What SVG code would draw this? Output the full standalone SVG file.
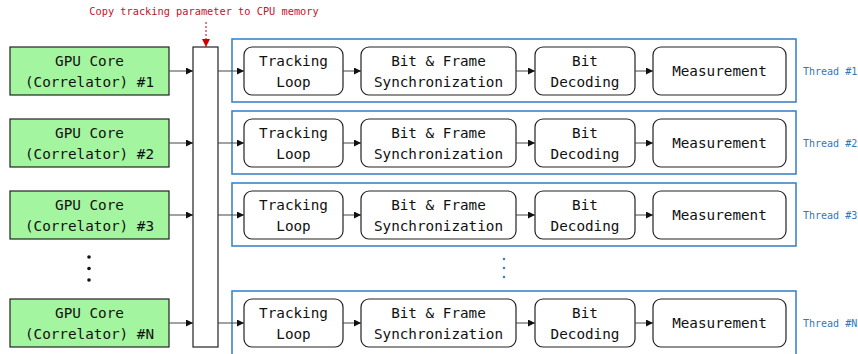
<svg xmlns="http://www.w3.org/2000/svg" width="858" height="354" viewBox="0 0 858 354">
<style>
text{font-family:"DejaVu Sans Mono","Liberation Mono",monospace;}
.t{font-size:14.3px;fill:#111;text-anchor:middle;}
.gpu{fill:#a3f59f;stroke:#222;stroke-width:1.2;}
.blk{fill:#fff;stroke:#222;stroke-width:1.2;}
.thr{fill:none;stroke:#3d85c6;stroke-width:1.6;}
.th{font-size:10px;fill:#2f78bd;}
.c{stroke:#444;stroke-width:1;marker-end:url(#ah);}
</style>
<defs>
<marker id="ah" viewBox="0 0 10 10" refX="10" refY="5" markerWidth="7" markerHeight="7" markerUnits="userSpaceOnUse" orient="auto"><path d="M0,0L10,5L0,10z" fill="#111"/></marker>
<marker id="ahr" viewBox="0 0 10 10" refX="10" refY="5" markerWidth="8" markerHeight="8" markerUnits="userSpaceOnUse" orient="auto"><path d="M0,0L10,5L0,10z" fill="#c00"/></marker>
<g id="row">
<rect class="blk" x="244" y="-24" width="99" height="48" rx="8"/>
<text class="t" x="293.5" y="-5">Tracking</text><text class="t" x="293.5" y="16">Loop</text>
<rect class="blk" x="361" y="-24" width="155" height="48" rx="8"/>
<text class="t" x="438.5" y="-5">Bit &amp; Frame</text><text class="t" x="438.5" y="16">Synchronization</text>
<rect class="blk" x="535" y="-24" width="100" height="48" rx="8"/>
<text class="t" x="585" y="-5">Bit</text><text class="t" x="585" y="16">Decoding</text>
<rect class="blk" x="653" y="-24" width="133" height="48" rx="8"/>
<text class="t" x="719.5" y="5">Measurement</text>
</g>
</defs>
<text x="204" y="15" font-size="10.3" fill="#c8102e" text-anchor="middle">Copy tracking parameter to CPU memory</text>

<g id="gpu1"><rect class="gpu" x="10" y="47" width="159" height="48"/><text class="t" x="89.5" y="66">GPU Core</text><text class="t" x="89.5" y="87">(Correlator) #1</text></g>
<g id="gpu2"><rect class="gpu" x="10" y="119" width="159" height="48"/><text class="t" x="89.5" y="138">GPU Core</text><text class="t" x="89.5" y="159">(Correlator) #2</text></g>
<g id="gpu3"><rect class="gpu" x="10" y="191" width="159" height="48"/><text class="t" x="89.5" y="210">GPU Core</text><text class="t" x="89.5" y="231">(Correlator) #3</text></g>
<g id="gpuN"><rect class="gpu" x="10" y="299" width="159" height="48"/><text class="t" x="89.5" y="318">GPU Core</text><text class="t" x="89.5" y="339">(Correlator) #N</text></g>
<g id="dotsL" fill="#111"><circle cx="89" cy="257" r="1.8"/><circle cx="89" cy="268.5" r="1.8"/><circle cx="89" cy="280" r="1.8"/></g>

<g id="buffer"><rect class="blk" x="193" y="47" width="25" height="300"/></g>

<g id="thread1"><rect class="thr" x="232" y="39" width="564" height="63"/><use href="#row" y="71"/><text class="th" x="803" y="75">Thread #1</text></g>
<g id="thread2"><rect class="thr" x="232" y="111" width="564" height="63"/><use href="#row" y="143"/><text class="th" x="803" y="147">Thread #2</text></g>
<g id="thread3"><rect class="thr" x="232" y="183" width="564" height="63"/><use href="#row" y="215"/><text class="th" x="803" y="219">Thread #3</text></g>
<g id="threadN"><rect class="thr" x="232" y="291" width="564" height="70"/><use href="#row" y="323"/><text class="th" x="803" y="327">Thread #N</text></g>
<g id="dotsR" fill="#3d85c6"><circle cx="504" cy="259" r="1.3"/><circle cx="504" cy="268" r="1.3"/><circle cx="504" cy="277" r="1.3"/></g>

<g id="connectors">
<line x1="206" y1="22" x2="206" y2="47" stroke="#c00" stroke-width="1" stroke-dasharray="2,2" marker-end="url(#ahr)"/>
<line class="c" x1="169" y1="71" x2="193" y2="71"/><line class="c" x1="218" y1="71" x2="244" y2="71"/><line class="c" x1="343" y1="71" x2="361" y2="71"/><line class="c" x1="516" y1="71" x2="535" y2="71"/><line class="c" x1="635" y1="71" x2="653" y2="71"/>
<line class="c" x1="169" y1="143" x2="193" y2="143"/><line class="c" x1="218" y1="143" x2="244" y2="143"/><line class="c" x1="343" y1="143" x2="361" y2="143"/><line class="c" x1="516" y1="143" x2="535" y2="143"/><line class="c" x1="635" y1="143" x2="653" y2="143"/>
<line class="c" x1="169" y1="215" x2="193" y2="215"/><line class="c" x1="218" y1="215" x2="244" y2="215"/><line class="c" x1="343" y1="215" x2="361" y2="215"/><line class="c" x1="516" y1="215" x2="535" y2="215"/><line class="c" x1="635" y1="215" x2="653" y2="215"/>
<line class="c" x1="169" y1="323" x2="193" y2="323"/><line class="c" x1="218" y1="323" x2="244" y2="323"/><line class="c" x1="343" y1="323" x2="361" y2="323"/><line class="c" x1="516" y1="323" x2="535" y2="323"/><line class="c" x1="635" y1="323" x2="653" y2="323"/>
</g>
</svg>
